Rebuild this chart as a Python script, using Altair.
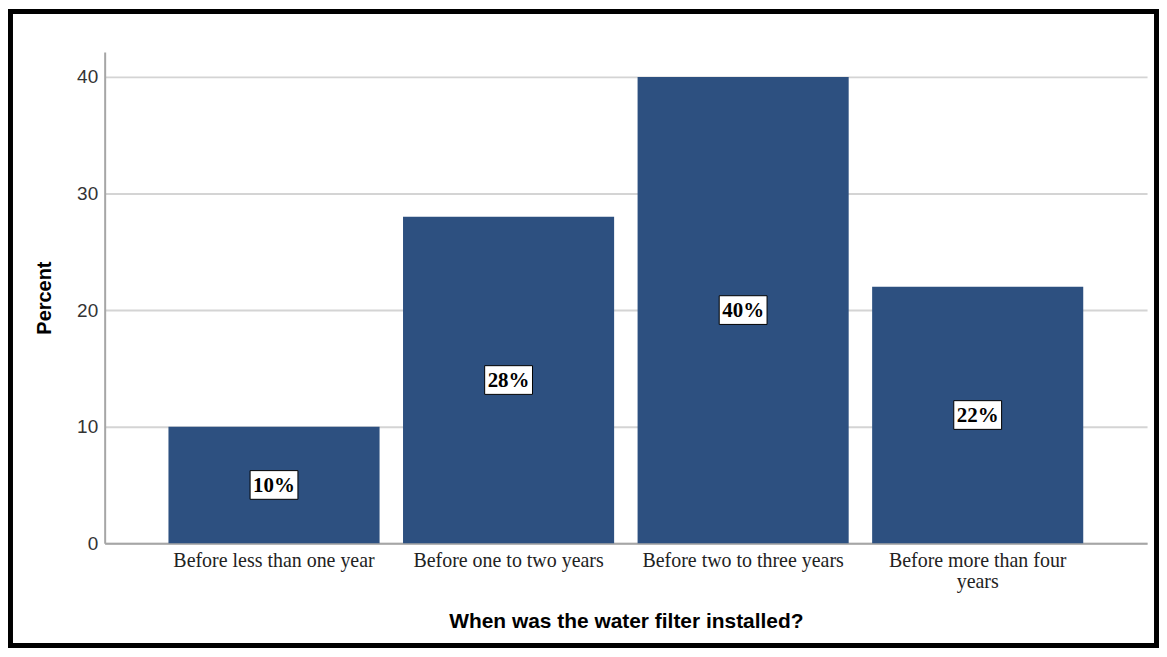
import altair as alt
import pandas as pd

categories = [
    "Before less than one year",
    "Before one to two years",
    "Before two to three years",
    "Before more than four years",
]
category_lines = [
    ["Before less than one year"],
    ["Before one to two years"],
    ["Before two to three years"],
    ["Before more than four", "years"],
]
percents = [10, 28, 40, 22]
y_ticks = [0, 10, 20, 30, 40]

df = pd.DataFrame({"cat": categories, "pct": percents})

W, H = 1046, 493

# label expression for wrapped category labels
parts = []
for c, lines in zip(categories, category_lines):
    if len(lines) > 1:
        arr = "[" + ", ".join("'" + l + "'" for l in lines) + "]"
        parts.append(f"datum.label == '{c}' ? {arr} : ")
label_expr = "".join(parts) + "datum.label"

x_enc = alt.X(
    "cat:N",
    sort=categories,
    scale=alt.Scale(paddingInner=0.1, paddingOuter=0.272),
    axis=alt.Axis(
        labelAngle=0,
        labelFont="Liberation Serif",
        labelFontSize=20,
        labelColor="#222222",
        labelPadding=7,
        labelLineHeight=21,
        labelLimit=400,
        labelExpr=label_expr,
        ticks=False,
        tickSize=0,
        domainColor="#a6a6a6",
        domainWidth=2,
        title="When was the water filter installed?",
        titleFont="Liberation Sans",
        titleFontSize=21,
        titleFontWeight="bold",
        titleColor="#000000",
        titleX=W / 2,
        titleY=79,
        titleAlign="center",
        titleBaseline="middle",
    ),
)

y_scale = alt.Scale(domain=[0, 42.14], nice=False, zero=True)

bars = alt.Chart(df).mark_bar(color="#2d5080").encode(
    x=x_enc,
    y=alt.Y(
        "pct:Q",
        scale=y_scale,
        axis=alt.Axis(
            values=y_ticks,
            grid=True,
            gridColor="#d4d4d4",
            gridWidth=2,
            domainColor="#a6a6a6",
            domainWidth=2,
            ticks=False,
            tickSize=0,
            labelFont="Liberation Sans",
            labelFontSize=19,
            labelColor="#333333",
            labelPadding=7,
            title="Percent",
            titleFont="Liberation Sans",
            titleFontSize=20,
            titleFontWeight="bold",
            titleColor="#000000",
            titleX=-60,
            titleY=H / 2,
            titleAngle=270,
            titleAlign="center",
            titleBaseline="middle",
        ),
    ),
)

mid = alt.Chart(df).transform_calculate(
    mid="datum.pct / 2", lab="datum.pct + '%'"
).encode(
    x=alt.X("cat:N", sort=categories),
    y=alt.Y("mid:Q", scale=y_scale),
)

boxes = mid.mark_point(
    shape="M-1,-0.6H1V0.6H-1Z",
    size=48 * 48,
    filled=True,
    fill="white",
    stroke="black",
    strokeWidth=1,
    opacity=1,
)

texts = mid.mark_text(
    font="Liberation Serif",
    fontWeight="bold",
    fontSize=21,
    baseline="middle",
    align="center",
    color="black",
    dy=1,
).encode(text="lab:N")

frame = alt.Chart(alt.InlineData(values=[{"k": 1}])).mark_rect(
    fill="transparent", stroke="black", strokeWidth=5
).encode(
    x=alt.value(-94.5),
    x2=alt.value(W + 9.5),
    y=alt.value(-40.5),
    y2=alt.value(H + 102.5),
)

chart = (
    alt.layer(bars, boxes, texts, frame)
    .properties(
        width=W,
        height=H,
        autosize=alt.AutoSizeParams(type="none"),
        padding={"left": 97, "top": 43, "right": 12, "bottom": 105},
        background="white",
    )
    .configure_view(strokeWidth=0)
)

chart.save("out.html", embed_options={"renderer": "svg", "actions": False})
